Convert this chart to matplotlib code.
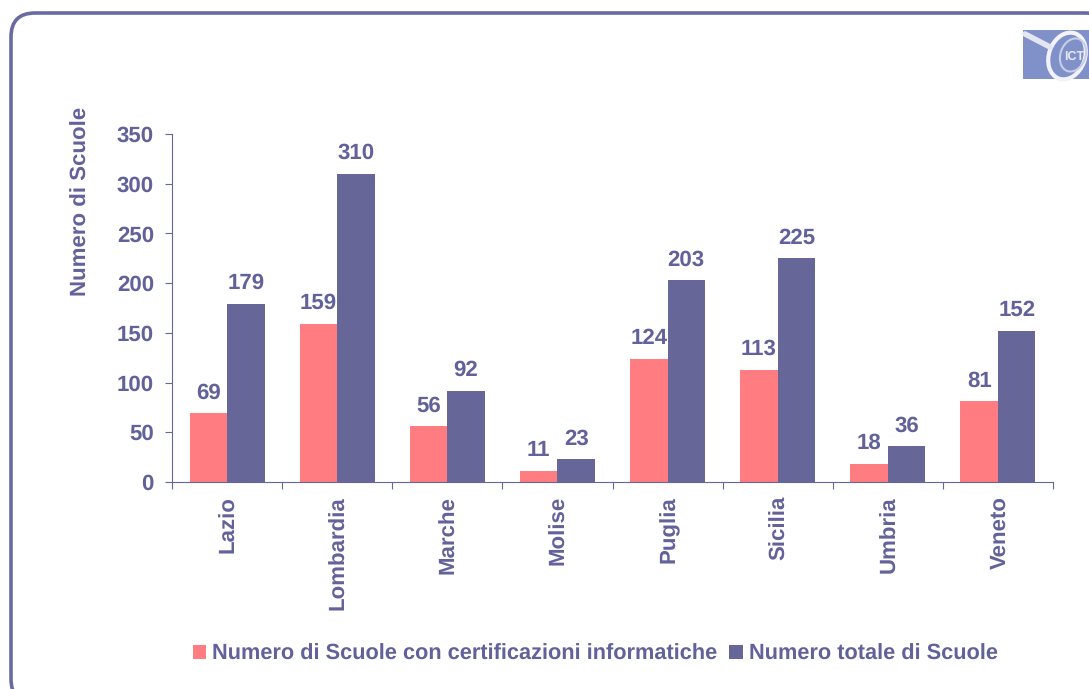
import matplotlib
matplotlib.use("Agg")
import matplotlib.pyplot as plt
from matplotlib.patches import FancyBboxPatch, Rectangle, Ellipse
from matplotlib.transforms import ScaledTranslation
import numpy as np

regions = ["Lazio", "Lombardia", "Marche", "Molise", "Puglia", "Sicilia", "Umbria", "Veneto"]
certified = [69, 159, 56, 11, 124, 113, 18, 81]
totals = [179, 310, 92, 23, 203, 225, 36, 152]
yticks = [0, 50, 100, 150, 200, 250, 300, 350]

W, H = 1089, 689
PINK = "#FF7C80"
PURPLE = "#666699"
TEXT = "#62629A"
FS = 16

plt.rcParams["font.family"] = ["Liberation Sans", "DejaVu Sans"]
plt.rcParams["font.weight"] = "bold"
plt.rcParams["text.hinting"] = "no_hinting"

fig = plt.figure(figsize=(W / 100, H / 100), dpi=100)

# overlay in pixel coords for frame and logo
bg = fig.add_axes([0, 0, 1, 1], zorder=0)
bg.set_xlim(0, W)
bg.set_ylim(H, 0)
bg.axis("off")
bg.add_patch(FancyBboxPatch((11, 13), 1098, 690, boxstyle="round,pad=0,rounding_size=24",
                            fc="white", ec="#6A6AA3", lw=2.6))

# little ICT logo top right
bg.add_patch(Rectangle((1023, 30), 66, 49, fc="#8090C8", ec="none"))
bg.plot([1025, 1050], [34, 47], color="#E4E6F2", lw=4, solid_capstyle="round")
bg.add_patch(Ellipse((1067, 56), 36, 48, angle=20, fc="none", ec="#F2F2F8", lw=3))
bg.add_patch(Ellipse((1073, 55), 25, 34, angle=20, fc="none", ec="#C8CEE8", lw=1.5))
bg.text(1074, 57, "ICT", color="#E4E6F2", fontsize=9, ha="center", va="center")

x0, x1, y0, y1 = 172, 1053, 482, 134
ax = fig.add_axes([x0 / W, 1 - y0 / H, (x1 - x0) / W, (y0 - y1) / H], zorder=1)
ax.patch.set_alpha(0)

x = np.arange(len(regions))
bw = 0.34
b1 = ax.bar(x - bw / 2, certified, bw, color=PINK, label="Numero di Scuole con certificazioni informatiche")
b2 = ax.bar(x + bw / 2, totals, bw, color=PURPLE, label="Numero totale di Scuole")

for bars, vals in ((b1, certified), (b2, totals)):
    for bar, v in zip(bars, vals):
        ax.annotate(str(v), (bar.get_x() + bar.get_width() / 2, v), textcoords="offset points",
                    xytext=(0, 14.8), ha="center", va="center", fontsize=FS, color=TEXT,
                    fontweight="bold", annotation_clip=False)

ax.set_xlim(-0.5, len(regions) - 0.5)
ax.set_ylim(0, 350)
ax.set_yticks(yticks)
ax.set_xticks(x)
ax.set_xticklabels(regions, rotation=90, fontsize=FS, color=TEXT, fontweight="bold")
ax.tick_params(axis="x", length=0, pad=10)
nudge = ScaledTranslation(1.5 / 100, 0, fig.dpi_scale_trans)
for lab in ax.get_xticklabels():
    lab.set_transform(lab.get_transform() + nudge)
ax.set_xticks(np.arange(-0.5, len(regions)), minor=True)
ax.tick_params(axis="x", which="minor", length=5, width=0.8, color=PURPLE)
ax.tick_params(axis="y", length=5, width=0.8, color=PURPLE, labelsize=FS, labelcolor=TEXT, pad=8)
for s in ("top", "right"):
    ax.spines[s].set_visible(False)
for s in ("left", "bottom"):
    ax.spines[s].set_color(PURPLE)
    ax.spines[s].set_linewidth(0.8)

fig.text(81 / W, 1 - 201 / H, "Numero di Scuole", rotation=90, ha="center", va="center",
         fontsize=FS, color=TEXT, fontweight="bold")

fig.legend(handles=[b1, b2], loc="center", bbox_to_anchor=(595 / W, 1 - 654 / H), ncol=2, frameon=False,
           fontsize=15.7, labelcolor=TEXT, handlelength=0.64, handleheight=0.64,
           handletextpad=0.25, columnspacing=0.55)

fig.savefig("out.png", dpi=100)
